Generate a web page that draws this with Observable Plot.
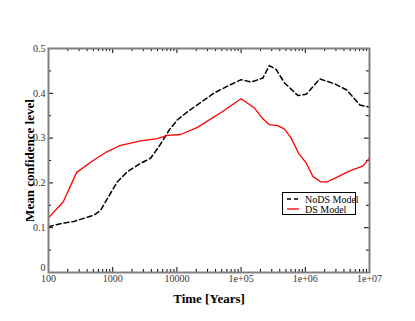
<!DOCTYPE html>
<html>
<head>
<meta charset="utf-8">
<script src="https://cdn.jsdelivr.net/npm/d3@7"></script>
<script src="https://cdn.jsdelivr.net/npm/@observablehq/plot@0.6"></script>
<style>
  html, body { margin: 0; padding: 0; background: #fff; }
  #wrap { position: relative; width: 415px; height: 321px; }
  #legend { position: absolute; left: 282px; top: 192px; width: 74px; height: 23px;
    border: 1px solid #000; background: #fff; font: 10px "Liberation Serif", serif; color: #000;
    white-space: nowrap; box-sizing: border-box; padding-top: 1px; }
  #legend .row { display: flex; align-items: center; height: 10px; padding-left: 4px; }
  #legend svg { margin-right: 6px; flex: none; }
</style>
</head>
<body>
<div id="wrap"></div>
<script>
// Time in years (log scale) and mean confidence level
const nodsTime = [100, 154, 249, 511, 649, 826, 1183, 1698, 2738, 3890, 5248, 7586, 10233, 14689, 23714, 38282, 61660, 100000, 143219, 218273, 275423, 352371, 475335, 767361, 1037528, 1674943, 2870781, 4365158, 7079458, 10000000];
const nodsValue = [0.102, 0.109, 0.114, 0.128, 0.139, 0.165, 0.2025, 0.225, 0.244, 0.255, 0.281, 0.318, 0.341, 0.359, 0.380, 0.401, 0.416, 0.4305, 0.425, 0.434, 0.462, 0.453, 0.423, 0.395, 0.398, 0.432, 0.421, 0.408, 0.374, 0.369];
const dsTime = [100, 170, 274, 510, 826, 1333, 2738, 4989, 7079, 11482, 20893, 48697, 100000, 161436, 218273, 275423, 374111, 475335, 602560, 787046, 1037528, 1318257, 1737801, 2187762, 2870781, 4645152, 7943282, 10000000];
const dsValue = [0.122, 0.158, 0.2235, 0.251, 0.270, 0.284, 0.294, 0.299, 0.306, 0.308, 0.324, 0.357, 0.388, 0.367, 0.343, 0.330, 0.328, 0.320, 0.300, 0.266, 0.244, 0.214, 0.2025, 0.2025, 0.210, 0.225, 0.238, 0.256];
const xMajor = [100, 1000, 10000, 100000, 1000000, 10000000];
const xMajorLabels = ["100", "1000", "10000", "1e+05", "1e+06", "1e+07"];
const yMajor = [0, 0.1, 0.2, 0.3, 0.4, 0.5];
const yMajorLabels = ["0", "0.1", "0.2", "0.3", "0.4", "0.5"];
const yMinor = [0.05, 0.15, 0.25, 0.35, 0.45];

const xMinor = [];
for (let e = 2; e < 7; e++) for (let m = 2; m <= 9; m++) xMinor.push(m * Math.pow(10, e));

const nods = nodsTime.map((t, i) => ({t, v: nodsValue[i]}));
const ds = dsTime.map((t, i) => ({t, v: dsValue[i]}));

const W = 415, H = 321, mL = 48, mR = 46, mT = 48, mB = 49;
const fw = W - mL - mR, fh = H - mT - mB;
const font = '"Liberation Serif", "Times New Roman", serif';
const gray = "#808080";

const chart = Plot.plot({
  width: W, height: H,
  marginLeft: mL, marginRight: mR, marginTop: mT, marginBottom: mB,
  style: {fontFamily: font, background: "#fff"},
  x: {type: "log", domain: [100, 1e7]},
  y: {domain: [0, 0.5]},
  marks: [
    // inward ticks (bottom/top/left/right)
    Plot.tickX(xMajor.slice(1, -1), {x: d => d, insetTop: fh - 5, stroke: "#000", strokeWidth: 1}),
    Plot.tickX(xMajor.slice(1, -1), {x: d => d, insetBottom: fh - 5, stroke: "#000", strokeWidth: 1}),
    Plot.tickX(xMinor, {x: d => d, insetTop: fh - 3, stroke: "#000", strokeWidth: 1}),
    Plot.tickX(xMinor, {x: d => d, insetBottom: fh - 3, stroke: "#000", strokeWidth: 1}),
    Plot.tickY(yMajor.slice(1, -1), {y: d => d, insetRight: fw - 5, stroke: "#000", strokeWidth: 1}),
    Plot.tickY(yMajor.slice(1, -1), {y: d => d, insetLeft: fw - 5, stroke: "#000", strokeWidth: 1}),
    Plot.tickY(yMinor, {y: d => d, insetRight: fw - 3, stroke: "#000", strokeWidth: 1}),
    Plot.tickY(yMinor, {y: d => d, insetLeft: fw - 3, stroke: "#000", strokeWidth: 1}),
    Plot.line(nods, {x: "t", y: "v", stroke: "#000", strokeWidth: 1.5, strokeDasharray: "5,3"}),
    Plot.line(ds, {x: "t", y: "v", stroke: "#ff0000", strokeWidth: 1.3}),
    Plot.frame({stroke: gray, strokeWidth: 2}),
    Plot.axisX(xMajor, {tickSize: 0, tickPadding: 2, fontSize: 10, fill: "#333",
      tickFormat: (d) => xMajorLabels[xMajor.indexOf(d)],
      label: "Time [Years]", labelAnchor: "center", labelOffset: 30, labelArrow: "none"}),
    Plot.axisY(yMajor, {tickSize: 0, tickPadding: 3, fontSize: 10, fill: "#333",
      tickFormat: d => yMajorLabels[yMajor.indexOf(d)],
      label: "Mean confidence level", labelAnchor: "center", labelOffset: 24, labelArrow: "none"})
  ]
});

// style axis labels bold and larger
chart.querySelectorAll('g[aria-label="x-axis label"] text, g[aria-label="y-axis label"] text').forEach(t => {
  t.setAttribute("font-weight", "bold");
  t.setAttribute("font-size", "13");
  t.setAttribute("fill", "#000");
});
// xmgrace-like offset of the zero label on the y axis (up, away from the x tick label)
chart.querySelectorAll('g[aria-label="y-axis tick label"] text').forEach(t => {
  if (t.textContent === "0") t.setAttribute("dy", "-0.45em");
});

const wrap = document.getElementById("wrap");
wrap.appendChild(chart);

const legend = document.createElement("div");
legend.id = "legend";
legend.innerHTML = `
  <div class="row"><svg width="12" height="4"><line x1="0" y1="2" x2="12" y2="2" stroke="#000" stroke-width="1.5" stroke-dasharray="4,3"/></svg>NoDS Model</div>
  <div class="row"><svg width="12" height="4"><line x1="0" y1="2" x2="12" y2="2" stroke="#ff0000" stroke-width="1.3"/></svg>DS Model</div>`;
wrap.appendChild(legend);
</script>
</body>
</html>
